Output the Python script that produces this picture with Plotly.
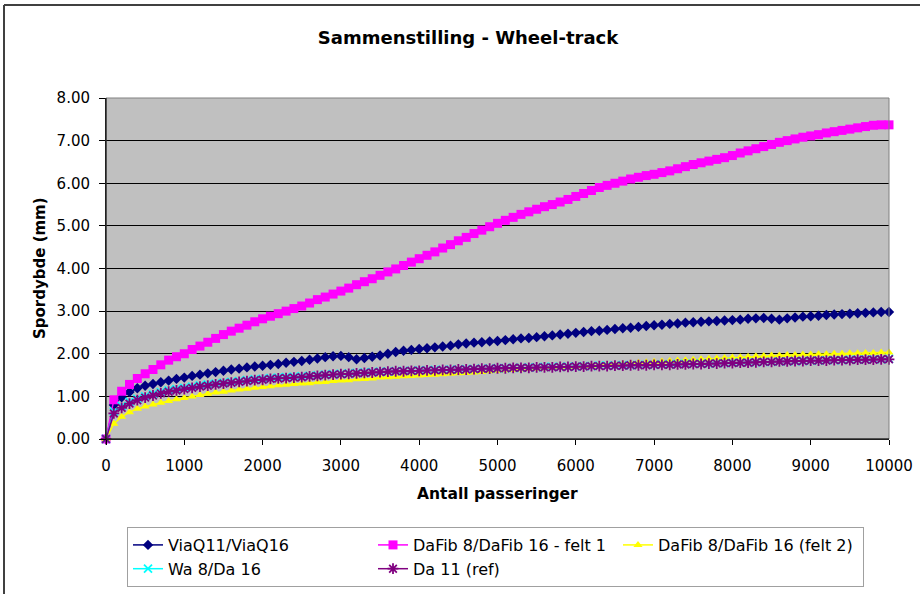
import plotly.graph_objects as go

# Number of wheel passes (every 100 passes, 0-10000)
passes = list(range(0, 10001, 100))

# Rut depth (mm) per mix
viaq = [
    0.00, 0.80, 0.98, 1.10, 1.19, 1.25, 1.29, 1.33, 1.37, 1.41,
    1.44, 1.48, 1.51, 1.54, 1.57, 1.60, 1.63, 1.65, 1.68, 1.70,
    1.72, 1.74, 1.76, 1.79, 1.81, 1.83, 1.86, 1.89, 1.92, 1.94,
    1.95, 1.92, 1.87, 1.90, 1.93, 1.96, 2.00, 2.04, 2.07, 2.09,
    2.11, 2.13, 2.15, 2.17, 2.19, 2.22, 2.24, 2.26, 2.27, 2.29,
    2.30, 2.32, 2.34, 2.36, 2.37, 2.39, 2.41, 2.43, 2.45, 2.47,
    2.49, 2.51, 2.53, 2.54, 2.56, 2.58, 2.60, 2.61, 2.63, 2.65,
    2.67, 2.68, 2.70, 2.71, 2.73, 2.74, 2.75, 2.76, 2.77, 2.78,
    2.79, 2.80, 2.82, 2.83, 2.84, 2.82, 2.80, 2.83, 2.85, 2.87,
    2.88, 2.89, 2.91, 2.92, 2.93, 2.94, 2.95, 2.96, 2.97, 2.98,
    2.98,
]

dafib_felt1 = [
    0.00, 0.92, 1.12, 1.28, 1.42, 1.53, 1.63, 1.74, 1.85, 1.93,
    2.00, 2.10, 2.18, 2.27, 2.36, 2.45, 2.53, 2.60, 2.67, 2.75,
    2.82, 2.88, 2.94, 3.00, 3.06, 3.12, 3.19, 3.27, 3.33, 3.40,
    3.47, 3.54, 3.62, 3.69, 3.76, 3.84, 3.92, 3.99, 4.07, 4.15,
    4.23, 4.31, 4.39, 4.48, 4.56, 4.65, 4.73, 4.82, 4.90, 4.98,
    5.06, 5.13, 5.20, 5.27, 5.33, 5.39, 5.45, 5.50, 5.56, 5.62,
    5.69, 5.76, 5.83, 5.90, 5.95, 6.00, 6.05, 6.10, 6.14, 6.18,
    6.21, 6.25, 6.29, 6.34, 6.39, 6.44, 6.48, 6.52, 6.56, 6.60,
    6.65, 6.71, 6.76, 6.81, 6.86, 6.91, 6.96, 7.00, 7.04, 7.08,
    7.11, 7.14, 7.18, 7.21, 7.24, 7.27, 7.30, 7.33, 7.36, 7.37,
    7.37,
]

dafib_felt2 = [
    0.00, 0.36, 0.52, 0.63, 0.71, 0.76, 0.81, 0.85, 0.89, 0.93,
    0.96, 1.00, 1.03, 1.06, 1.09, 1.11, 1.14, 1.16, 1.18, 1.20,
    1.22, 1.24, 1.26, 1.27, 1.29, 1.30, 1.31, 1.33, 1.34, 1.36,
    1.37, 1.38, 1.40, 1.41, 1.42, 1.44, 1.45, 1.46, 1.47, 1.48,
    1.49, 1.50, 1.51, 1.52, 1.53, 1.54, 1.55, 1.56, 1.57, 1.59,
    1.60, 1.61, 1.62, 1.63, 1.64, 1.65, 1.66, 1.67, 1.68, 1.69,
    1.70, 1.71, 1.72, 1.73, 1.74, 1.75, 1.76, 1.77, 1.79, 1.80,
    1.81, 1.82, 1.83, 1.84, 1.85, 1.86, 1.87, 1.88, 1.89, 1.90,
    1.91, 1.92, 1.93, 1.94, 1.95, 1.96, 1.96, 1.97, 1.97, 1.98,
    1.98, 1.99, 1.99, 2.00, 2.00, 2.01, 2.01, 2.02, 2.02, 2.03,
    2.03,
]

wa8_da16 = [
    0.00, 0.64, 0.77, 0.87, 0.94, 1.00, 1.05, 1.10, 1.14, 1.17,
    1.20, 1.23, 1.26, 1.28, 1.30, 1.32, 1.34, 1.36, 1.38, 1.40,
    1.41, 1.43, 1.44, 1.45, 1.46, 1.47, 1.48, 1.49, 1.51, 1.52,
    1.53, 1.54, 1.55, 1.56, 1.57, 1.58, 1.58, 1.59, 1.60, 1.60,
    1.61, 1.61, 1.62, 1.62, 1.63, 1.63, 1.64, 1.64, 1.65, 1.65,
    1.66, 1.66, 1.67, 1.67, 1.68, 1.68, 1.69, 1.69, 1.69, 1.70,
    1.70, 1.71, 1.71, 1.72, 1.72, 1.72, 1.73, 1.73, 1.74, 1.74,
    1.74, 1.75, 1.75, 1.76, 1.76, 1.76, 1.77, 1.77, 1.78, 1.78,
    1.79, 1.79, 1.80, 1.80, 1.81, 1.81, 1.82, 1.82, 1.83, 1.83,
    1.84, 1.84, 1.85, 1.85, 1.85, 1.86, 1.86, 1.86, 1.87, 1.87,
    1.88,
]

da11_ref = [
    0.00, 0.60, 0.73, 0.83, 0.91, 0.97, 1.02, 1.07, 1.11, 1.14,
    1.17, 1.20, 1.23, 1.25, 1.28, 1.30, 1.32, 1.34, 1.36, 1.38,
    1.39, 1.41, 1.42, 1.43, 1.44, 1.45, 1.47, 1.48, 1.50, 1.51,
    1.52, 1.53, 1.54, 1.55, 1.56, 1.57, 1.58, 1.59, 1.59, 1.60,
    1.60, 1.61, 1.61, 1.62, 1.62, 1.63, 1.63, 1.64, 1.65, 1.65,
    1.66, 1.66, 1.67, 1.67, 1.67, 1.68, 1.68, 1.68, 1.69, 1.69,
    1.70, 1.70, 1.71, 1.71, 1.71, 1.72, 1.72, 1.73, 1.73, 1.73,
    1.74, 1.74, 1.74, 1.75, 1.75, 1.76, 1.76, 1.77, 1.77, 1.78,
    1.78, 1.79, 1.79, 1.80, 1.81, 1.81, 1.82, 1.82, 1.83, 1.83,
    1.84, 1.84, 1.84, 1.85, 1.85, 1.85, 1.86, 1.86, 1.86, 1.87,
    1.87,
]

x_ticks = list(range(0, 10001, 1000))
y_ticks = [0, 1, 2, 3, 4, 5, 6, 7, 8]

series = [
    ("ViaQ11/ViaQ16", viaq, "#000080", "diamond", 8, 0),
    ("DaFib 8/DaFib 16 - felt 1", dafib_felt1, "#FF00FF", "square", 9, 0),
    ("DaFib 8/DaFib 16 (felt 2)", dafib_felt2, "#FFFF00", "triangle-up", 8, 0),
    ("Wa 8/Da 16", wa8_da16, "#00FFFF", "x-thin-open", 8, 1.8),
    ("Da 11 (ref)", da11_ref, "#800080", "asterisk-open", 9, 1.8),
]

FONT = "DejaVu Sans, Arial, sans-serif"

fig = go.Figure()
for name, vals, color, symbol, size, mlw in series:
    marker = dict(symbol=symbol, size=size, color=color)
    marker["line"] = dict(color=color, width=mlw) if mlw else dict(width=0)
    fig.add_trace(go.Scatter(
        x=passes, y=vals, name=name, mode="lines+markers",
        line=dict(color=color, width=1.5),
        marker=marker, cliponaxis=False,
    ))

L, R, T, B = 106, 31, 98, 155
W, H = 920, 594
pw, ph = W - L - R, H - T - B


def px_x(px):
    return (px - L) / pw


def px_y(py):
    return (H - B - py) / ph


fig.update_layout(
    width=W, height=H,
    margin=dict(l=L, r=R, t=T, b=B, autoexpand=False),
    paper_bgcolor="white",
    plot_bgcolor="#C0C0C0",
    font=dict(family=FONT, size=15, color="black"),
    title=dict(
        text="<b>Sammenstilling - Wheel-track</b>",
        x=468 / W, xref="container", xanchor="center",
        y=1 - 38 / H, yref="container", yanchor="middle",
        font=dict(family=FONT, size=18, color="black"),
    ),
    xaxis=dict(
        range=[0, 10000], tickvals=x_ticks, ticktext=[str(v) for v in x_ticks],
        showgrid=False, zeroline=False,
        showline=True, linecolor="black", linewidth=1,
        ticks="outside", ticklen=5, tickcolor="black",
        ticklabelstandoff=8,
        tickfont=dict(family=FONT, size=15, color="black"),
    ),
    yaxis=dict(
        range=[0, 8], tickvals=y_ticks, tickformat=".2f",
        showgrid=True, gridcolor="black", gridwidth=1, zeroline=False,
        showline=True, linecolor="black", linewidth=1,
        ticks="outside", ticklen=6, tickcolor="black",
        ticklabelstandoff=6,
        tickfont=dict(family=FONT, size=15, color="black"),
    ),
    legend=dict(
        orientation="h",
        x=127 / W, xref="container", xanchor="left",
        y=1 - 527 / H, yref="container", yanchor="top",
        bgcolor="white", bordercolor="#A0A0A0", borderwidth=1,
        entrywidth=200, entrywidthmode="pixels",
        font=dict(family=FONT, size=16, color="black"),
    ),
    showlegend=True,
)

# axis titles
fig.add_annotation(
    text="<b>Antall passeringer</b>", xref="paper", yref="paper",
    x=px_x(497), y=px_y(494), xanchor="center", yanchor="middle",
    showarrow=False, font=dict(family=FONT, size=15.5, color="black"),
)
fig.add_annotation(
    text="<b>Spordybde (mm)</b>", xref="paper", yref="paper",
    x=px_x(40), y=px_y(268), xanchor="center", yanchor="middle",
    textangle=-90, showarrow=False,
    font=dict(family=FONT, size=15, color="black"),
)

# grey frame around the plot area
fig.add_shape(
    type="rect", xref="x domain", yref="y domain", x0=0, x1=1, y0=0, y1=1,
    line=dict(color="#808080", width=1), layer="above",
)
# black axis lines drawn again over the frame on the left and bottom
fig.add_shape(
    type="line", xref="x domain", yref="y domain", x0=0, x1=0, y0=0, y1=1,
    line=dict(color="black", width=1), layer="above",
)
fig.add_shape(
    type="line", xref="x domain", yref="y domain", x0=0, x1=1, y0=0, y1=0,
    line=dict(color="black", width=1), layer="above",
)
# outer chart border (top and left edges)
fig.add_shape(
    type="line", xref="paper", yref="paper",
    x0=px_x(4), x1=px_x(W + 10), y0=px_y(5), y1=px_y(5),
    line=dict(color="#404040", width=2), layer="above",
)
fig.add_shape(
    type="line", xref="paper", yref="paper",
    x0=px_x(4), x1=px_x(4), y0=px_y(5), y1=px_y(H + 10),
    line=dict(color="#404040", width=2), layer="above",
)

fig.write_html("out.html")
